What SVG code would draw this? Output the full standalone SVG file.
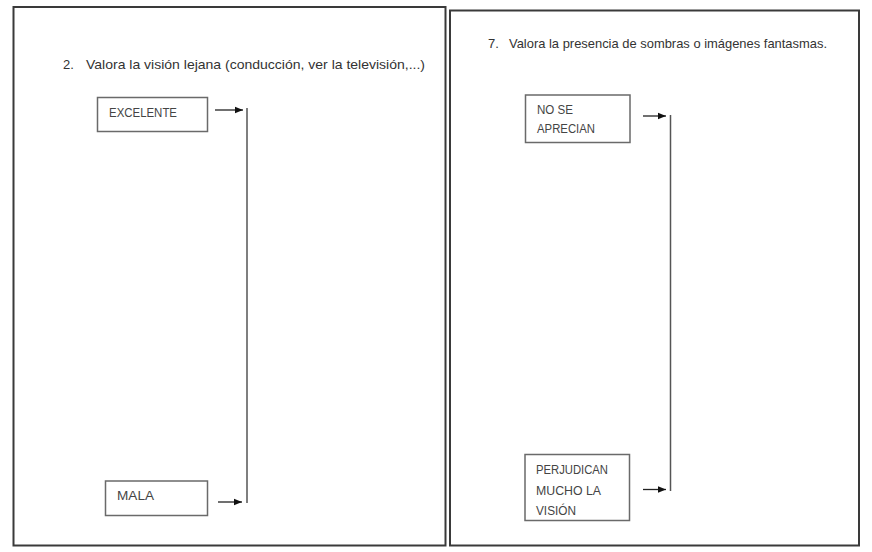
<svg xmlns="http://www.w3.org/2000/svg" width="872" height="552" viewBox="0 0 872 552">
<defs>
<style>
.frame{fill:none;stroke:#3a3a3a;stroke-width:2}
.box{fill:#fff;stroke:#6a6a6a;stroke-width:1.5}
.t{font-family:"Liberation Sans",Arial,sans-serif;font-size:12.5px;fill:#444}
.title{font-family:"Liberation Sans",Arial,sans-serif;font-size:13px;fill:#333}
.con{stroke:#222;stroke-width:1.3;fill:none}
.vline{stroke:#555;stroke-width:1.5;fill:none}
</style>
<marker id="ah" viewBox="0 0 10 10" refX="10" refY="5" markerWidth="8" markerHeight="8" markerUnits="userSpaceOnUse" orient="auto">
<path d="M0,1 L10,5 L0,9 z" fill="#111"/>
</marker>
</defs>
<rect width="872" height="552" fill="#fff"/>
<g id="panel-left">
<rect class="frame" x="13.5" y="7" width="432" height="538.5"/>
<text class="title" x="63" y="69">2.</text>
<text class="title" x="86" y="69" textLength="339" lengthAdjust="spacingAndGlyphs">Valora la visión lejana (conducción, ver la televisión,...)</text>
</g>
<g id="panel-right">
<rect class="frame" x="450" y="10.5" width="409" height="535"/>
<text class="title" x="488" y="48">7.</text>
<text class="title" x="509" y="48" textLength="318" lengthAdjust="spacingAndGlyphs">Valora la presencia de sombras o imágenes fantasmas.</text>
</g>
<g id="node-excelente">
<rect class="box" x="97.5" y="97.5" width="110" height="34"/>
<text class="t" x="109" y="117" textLength="68" lengthAdjust="spacingAndGlyphs">EXCELENTE</text>
</g>
<g id="node-mala">
<rect class="box" x="105.5" y="481" width="102" height="34.5"/>
<text class="t" x="117" y="500" textLength="37" lengthAdjust="spacingAndGlyphs">MALA</text>
</g>
<g id="node-no-se-aprecian">
<rect class="box" x="525.5" y="95" width="104.5" height="47.5"/>
<text class="t" x="537" y="114" textLength="36" lengthAdjust="spacingAndGlyphs">NO SE</text>
<text class="t" x="537" y="133" textLength="58" lengthAdjust="spacingAndGlyphs">APRECIAN</text>
</g>
<g id="node-perjudican">
<rect class="box" x="525" y="454.5" width="104.5" height="66"/>
<text class="t" x="536" y="474" textLength="72" lengthAdjust="spacingAndGlyphs">PERJUDICAN</text>
<text class="t" x="536" y="495" textLength="65" lengthAdjust="spacingAndGlyphs">MUCHO LA</text>
<text class="t" x="536" y="515" textLength="40" lengthAdjust="spacingAndGlyphs">VISIÓN</text>
</g>
<g id="connectors">
<line class="con" x1="215" y1="110" x2="243" y2="110" marker-end="url(#ah)"/>
<line class="vline" x1="247" y1="108" x2="247" y2="503"/>
<line class="con" x1="218" y1="502" x2="242" y2="502" marker-end="url(#ah)"/>
<line class="con" x1="643" y1="116" x2="666" y2="116" marker-end="url(#ah)"/>
<line class="vline" x1="670.5" y1="115" x2="670.5" y2="491"/>
<line class="con" x1="643" y1="489.5" x2="666" y2="489.5" marker-end="url(#ah)"/>
</g>
</svg>
